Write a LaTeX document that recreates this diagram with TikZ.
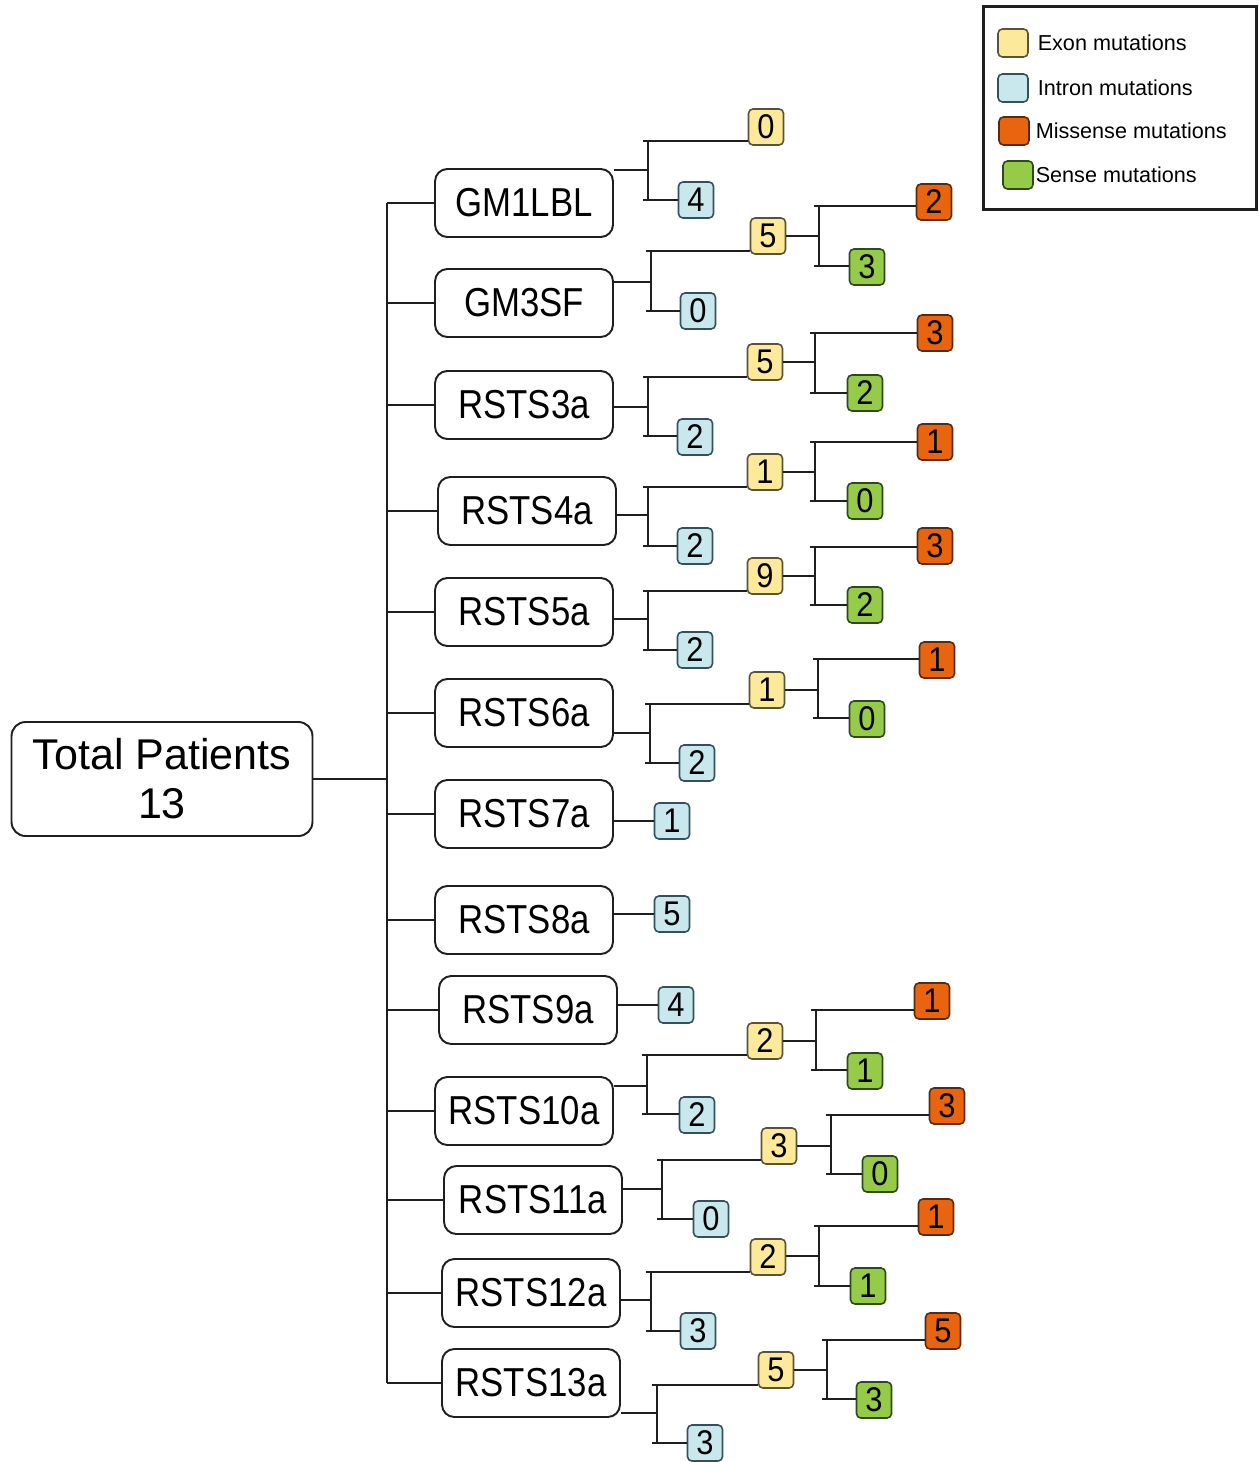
\documentclass[tikz,border=0pt]{standalone}
\usepackage{fontspec}
\setmainfont{Liberation Sans}
\newfontfamily\boxfont[FakeStretch=0.86]{Liberation Sans}
\newfontfamily\countfont[FakeStretch=0.9]{Liberation Sans}
\usetikzlibrary{positioning}
\definecolor{exonc}{HTML}{FCEA9A}
\definecolor{intronc}{HTML}{C8E8EE}
\definecolor{missc}{HTML}{E8640F}
\definecolor{sensec}{HTML}{96CB4A}
\definecolor{exonb}{HTML}{5C5235}
\definecolor{intronb}{HTML}{34505A}
\definecolor{missb}{HTML}{5A2A0A}
\definecolor{senseb}{HTML}{2E4A1C}

\begin{document}
\begin{tikzpicture}[x=0.02cm, y=-0.02cm, line width=1.1pt, color=black!88,
    patient/.style={draw, text=black, rounded corners=7pt, minimum width=3.56cm, minimum height=1.36cm, inner sep=0pt, font=\boxfont\fontsize{23}{26}\selectfont},
    count/.style={draw, text=black, rounded corners=2.5pt, line width=0.9pt, minimum width=0.7cm, minimum height=0.72cm, inner sep=0pt, font=\countfont\fontsize{19.5}{20}\selectfont},
    exon/.style={count, fill=exonc, draw=exonb},
    intron/.style={count, fill=intronc, draw=intronb},
    missense/.style={count, fill=missc, draw=missb},
    sense/.style={count, fill=sensec, draw=senseb},
    key/.style={draw, rounded corners=2.5pt, line width=0.9pt, minimum width=0.6cm, minimum height=0.56cm, inner sep=0pt},
    keytext/.style={text=black, inner sep=0pt, font=\fontsize{12.3}{14}\selectfont}]
    \useasboundingbox (0,0) rectangle (1258,1462);

    \node [draw, text=black, rounded corners=8pt, minimum width=6.02cm, minimum height=2.28cm, align=center, font=\fontsize{24.5}{28}\selectfont] (tot) at (162,779) {Total Patients\\13};

    \node [patient] (p1) at (524,203) {GM1LBL};
    \node [patient] (p2) at (524,303) {GM3SF};
    \node [patient] (p3) at (524,405) {RSTS3a};
    \node [patient] (p4) at (527,511) {RSTS4a};
    \node [patient] (p5) at (524,612) {RSTS5a};
    \node [patient] (p6) at (524,713) {RSTS6a};
    \node [patient] (p7) at (524,814) {RSTS7a};
    \node [patient] (p8) at (524,920) {RSTS8a};
    \node [patient] (p9) at (528,1010) {RSTS9a};
    \node [patient] (p10) at (524,1111) {RSTS10a};
    \node [patient] (p11) at (533,1200) {RSTS11a};
    \node [patient] (p12) at (531,1293) {RSTS12a};
    \node [patient] (p13) at (531,1383) {RSTS13a};

    \coordinate (tr) at (387,0);
    \draw (tot.east) -- (tot.east -| tr);
    \draw (tr |- p1.west) -- (tr |- p13.west);
    \draw (tr |- p1.west) -- (p1.west);
    \draw (tr |- p2.west) -- (p2.west);
    \draw (tr |- p3.west) -- (p3.west);
    \draw (tr |- p4.west) -- (p4.west);
    \draw (tr |- p5.west) -- (p5.west);
    \draw (tr |- p6.west) -- (p6.west);
    \draw (tr |- p7.west) -- (p7.west);
    \draw (tr |- p8.west) -- (p8.west);
    \draw (tr |- p9.west) -- (p9.west);
    \draw (tr |- p10.west) -- (p10.west);
    \draw (tr |- p11.west) -- (p11.west);
    \draw (tr |- p12.west) -- (p12.west);
    \draw (tr |- p13.west) -- (p13.west);

    % GM1LBL
    \node [exon] (e1) at (766,127) {0};
    \node [intron] (i1) at (696,200) {4};
    \coordinate (j1) at (648,170);
    \coordinate (a1) at (648,141);
    \coordinate (b1) at (648,200);
    \draw (p1.east |- j1) -- (j1) (a1) -- (b1);
    \draw ([xshift=-0.1cm]a1) -- (a1 -| e1.west) ([xshift=-0.1cm]b1) -- (b1 -| i1.west);

    % GM3SF
    \node [exon] (e2) at (768,236) {5};
    \node [intron] (i2) at (698,311) {0};
    \node [missense] (m2) at (934,202) {2};
    \node [sense] (s2) at (867,267) {3};
    \coordinate (j2) at (651,282);
    \coordinate (a2) at (651,251);
    \coordinate (b2) at (651,311);
    \coordinate (k2) at (819,236);
    \coordinate (c2) at (819,206);
    \coordinate (d2) at (819,266);
    \draw (p2.east |- j2) -- (j2) (a2) -- (b2);
    \draw ([xshift=-0.1cm]a2) -- (a2 -| e2.west) ([xshift=-0.1cm]b2) -- (b2 -| i2.west);
    \draw (e2.east |- k2) -- (k2) (c2) -- (d2);
    \draw ([xshift=-0.1cm]c2) -- (c2 -| m2.west) ([xshift=-0.1cm]d2) -- (d2 -| s2.west);

    % RSTS3a
    \node [exon] (e3) at (765,362) {5};
    \node [intron] (i3) at (695,437) {2};
    \node [missense] (m3) at (935,333) {3};
    \node [sense] (s3) at (865,393) {2};
    \coordinate (j3) at (648,407);
    \coordinate (a3) at (648,377);
    \coordinate (b3) at (648,436);
    \coordinate (k3) at (815,362);
    \coordinate (c3) at (815,333);
    \coordinate (d3) at (815,393);
    \draw (p3.east |- j3) -- (j3) (a3) -- (b3);
    \draw ([xshift=-0.1cm]a3) -- (a3 -| e3.west) ([xshift=-0.1cm]b3) -- (b3 -| i3.west);
    \draw (e3.east |- k3) -- (k3) (c3) -- (d3);
    \draw ([xshift=-0.1cm]c3) -- (c3 -| m3.west) ([xshift=-0.1cm]d3) -- (d3 -| s3.west);

    % RSTS4a
    \node [exon] (e4) at (765,472) {1};
    \node [intron] (i4) at (695,546) {2};
    \node [missense] (m4) at (935,442) {1};
    \node [sense] (s4) at (865,501) {0};
    \coordinate (j4) at (648,515);
    \coordinate (a4) at (648,487);
    \coordinate (b4) at (648,546);
    \coordinate (k4) at (815,472);
    \coordinate (c4) at (815,442);
    \coordinate (d4) at (815,501);
    \draw (p4.east |- j4) -- (j4) (a4) -- (b4);
    \draw ([xshift=-0.1cm]a4) -- (a4 -| e4.west) ([xshift=-0.1cm]b4) -- (b4 -| i4.west);
    \draw (e4.east |- k4) -- (k4) (c4) -- (d4);
    \draw ([xshift=-0.1cm]c4) -- (c4 -| m4.west) ([xshift=-0.1cm]d4) -- (d4 -| s4.west);

    % RSTS5a
    \node [exon] (e5) at (765,576) {9};
    \node [intron] (i5) at (695,650) {2};
    \node [missense] (m5) at (935,546) {3};
    \node [sense] (s5) at (865,605) {2};
    \coordinate (j5) at (648,619);
    \coordinate (a5) at (648,591);
    \coordinate (b5) at (648,650);
    \coordinate (k5) at (815,576);
    \coordinate (c5) at (815,547);
    \coordinate (d5) at (815,605);
    \draw (p5.east |- j5) -- (j5) (a5) -- (b5);
    \draw ([xshift=-0.1cm]a5) -- (a5 -| e5.west) ([xshift=-0.1cm]b5) -- (b5 -| i5.west);
    \draw (e5.east |- k5) -- (k5) (c5) -- (d5);
    \draw ([xshift=-0.1cm]c5) -- (c5 -| m5.west) ([xshift=-0.1cm]d5) -- (d5 -| s5.west);

    % RSTS6a
    \node [exon] (e6) at (767,690) {1};
    \node [intron] (i6) at (697,763) {2};
    \node [missense] (m6) at (937,660) {1};
    \node [sense] (s6) at (867,719) {0};
    \coordinate (j6) at (650,733);
    \coordinate (a6) at (650,704);
    \coordinate (b6) at (650,763);
    \coordinate (k6) at (818,690);
    \coordinate (c6) at (818,659);
    \coordinate (d6) at (818,718);
    \draw (p6.east |- j6) -- (j6) (a6) -- (b6);
    \draw ([xshift=-0.1cm]a6) -- (a6 -| e6.west) ([xshift=-0.1cm]b6) -- (b6 -| i6.west);
    \draw (e6.east |- k6) -- (k6) (c6) -- (d6);
    \draw ([xshift=-0.1cm]c6) -- (c6 -| m6.west) ([xshift=-0.1cm]d6) -- (d6 -| s6.west);

    % RSTS7a, RSTS8a, RSTS9a
    \node [intron] (i7) at (672,821) {1};
    \node [intron] (i8) at (672,914) {5};
    \node [intron] (i9) at (676,1005) {4};
    \draw (p7.east |- i7) -- (i7);
    \draw (p8.east |- i8) -- (i8);
    \draw (p9.east |- i9) -- (i9);

    % RSTS10a
    \node [exon] (e10) at (765,1041) {2};
    \node [intron] (i10) at (697,1115) {2};
    \node [missense] (m10) at (932,1001) {1};
    \node [sense] (s10) at (865,1071) {1};
    \coordinate (j10) at (647,1086);
    \coordinate (a10) at (647,1055);
    \coordinate (b10) at (647,1114);
    \coordinate (k10) at (816,1041);
    \coordinate (c10) at (816,1010);
    \coordinate (d10) at (816,1070);
    \draw (p10.east |- j10) -- (j10) (a10) -- (b10);
    \draw ([xshift=-0.1cm]a10) -- (a10 -| e10.west) ([xshift=-0.1cm]b10) -- (b10 -| i10.west);
    \draw (e10.east |- k10) -- (k10) (c10) -- (d10);
    \draw ([xshift=-0.1cm]c10) -- (c10 -| m10.west) ([xshift=-0.1cm]d10) -- (d10 -| s10.west);

    % RSTS11a
    \node [exon] (e11) at (779,1146) {3};
    \node [intron] (i11) at (711,1219) {0};
    \node [missense] (m11) at (947,1106) {3};
    \node [sense] (s11) at (880,1174) {0};
    \coordinate (j11) at (662,1189);
    \coordinate (a11) at (662,1160);
    \coordinate (b11) at (662,1219);
    \coordinate (k11) at (831,1146);
    \coordinate (c11) at (831,1115);
    \coordinate (d11) at (831,1174);
    \draw (p11.east |- j11) -- (j11) (a11) -- (b11);
    \draw ([xshift=-0.1cm]a11) -- (a11 -| e11.west) ([xshift=-0.1cm]b11) -- (b11 -| i11.west);
    \draw (e11.east |- k11) -- (k11) (c11) -- (d11);
    \draw ([xshift=-0.1cm]c11) -- (c11 -| m11.west) ([xshift=-0.1cm]d11) -- (d11 -| s11.west);

    % RSTS12a
    \node [exon] (e12) at (768,1257) {2};
    \node [intron] (i12) at (698,1331) {3};
    \node [missense] (m12) at (936,1217) {1};
    \node [sense] (s12) at (868,1286) {1};
    \coordinate (j12) at (651,1300);
    \coordinate (a12) at (651,1272);
    \coordinate (b12) at (651,1331);
    \coordinate (k12) at (819,1256);
    \coordinate (c12) at (819,1226);
    \coordinate (d12) at (819,1286);
    \draw (p12.east |- j12) -- (j12) (a12) -- (b12);
    \draw ([xshift=-0.1cm]a12) -- (a12 -| e12.west) ([xshift=-0.1cm]b12) -- (b12 -| i12.west);
    \draw (e12.east |- k12) -- (k12) (c12) -- (d12);
    \draw ([xshift=-0.1cm]c12) -- (c12 -| m12.west) ([xshift=-0.1cm]d12) -- (d12 -| s12.west);

    % RSTS13a
    \node [exon] (e13) at (776,1370) {5};
    \node [intron] (i13) at (705,1443) {3};
    \node [missense] (m13) at (943,1331) {5};
    \node [sense] (s13) at (874,1400) {3};
    \coordinate (j13) at (657,1413);
    \coordinate (a13) at (657,1385);
    \coordinate (b13) at (657,1443);
    \coordinate (k13) at (827,1370);
    \coordinate (c13) at (827,1340);
    \coordinate (d13) at (827,1399);
    \draw (p13.east |- j13) -- (j13) (a13) -- (b13);
    \draw ([xshift=-0.1cm]a13) -- (a13 -| e13.west) ([xshift=-0.1cm]b13) -- (b13 -| i13.west);
    \draw (e13.east |- k13) -- (k13) (c13) -- (d13);
    \draw ([xshift=-0.1cm]c13) -- (c13 -| m13.west) ([xshift=-0.1cm]d13) -- (d13 -| s13.west);

    % legend
    \node [draw, line width=1.2pt, minimum width=5.46cm, minimum height=4.06cm, inner sep=0pt] (legend) at (1120,108) {};
    \node [key, fill=exonc, draw=exonb] (kexon) at (1013,43) {};
    \node [key, fill=intronc, draw=intronb] (kintron) at (1013,88) {};
    \node [key, fill=missc, draw=missb] (kmiss) at (1014,131) {};
    \node [key, fill=sensec, draw=senseb] (ksense) at (1018,175) {};
    \node [keytext, right=0.16cm of kexon] (texon) {Exon mutations};
    \node [keytext, right=0.16cm of kintron] (tintron) {Intron mutations};
    \node [keytext, right=0.1cm of kmiss] (tmiss) {Missense mutations};
    \node [keytext, right=0.02cm of ksense] (tsense) {Sense mutations};
\end{tikzpicture}
\end{document}
